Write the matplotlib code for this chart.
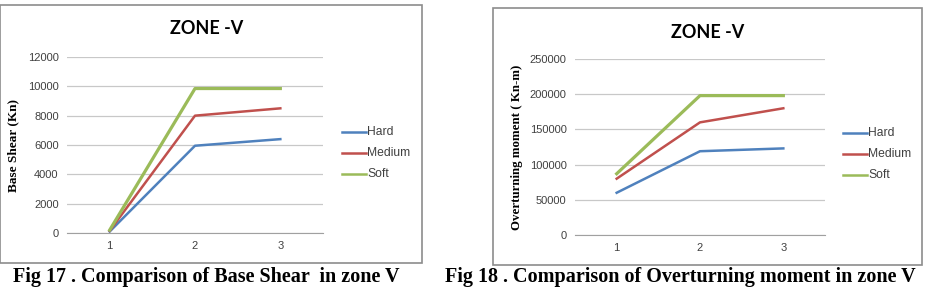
"""Zone V comparison: base shear and overturning moment for three soil types."""
import matplotlib
matplotlib.use("Agg")
import matplotlib.pyplot as plt
from matplotlib.patches import Rectangle

W, H = 925, 288

categories = [1, 2, 3]
series_names = ["Hard", "Medium", "Soft"]

shear_hard = [100, 5950, 6400]
shear_medium = [150, 8000, 8500]
shear_soft = [200, 9850, 9850]
shear_ticks = [0, 2000, 4000, 6000, 8000, 10000, 12000]

moment_hard = [60000, 119000, 123000]
moment_medium = [80000, 160000, 180000]
moment_soft = [87000, 198000, 198000]
moment_ticks = [0, 50000, 100000, 150000, 200000, 250000]

COLORS = ["#4F81BD", "#C0504D", "#9BBB59"]
GRID = "#C8C8C8"
TICK_COLOR = "#404040"


def fx(px):
    return px / W


def fy(py):
    return 1 - py / H


def panel(fig, frame, plot, title_xy, legend_xy, series, ticks, ylabel, ylabel_x, ylabel_size,
          caption, caption_x):
    # chart frame (pixel box)
    x0, y0, x1, y1 = frame
    fig.patches.append(Rectangle((fx(x0), fy(y1)), fx(x1 - x0), (y1 - y0) / H,
                                 transform=fig.transFigure, fill=False,
                                 edgecolor="#8C8C8C", linewidth=1.2))
    px0, py0, px1, py1 = plot
    ax = fig.add_axes([fx(px0), fy(py1), fx(px1 - px0), (py1 - py0) / H])
    for vals, name, color in zip(series, series_names, COLORS):
        lw = 2.3 if name == "Soft" else 1.8
        ax.plot(categories, vals, color=color, linewidth=lw, label=name)
    ax.set_xlim(0.5, 3.5)
    ax.set_ylim(ticks[0], ticks[-1])
    ax.set_yticks(ticks)
    ax.set_xticks(categories)
    ax.yaxis.grid(True, color=GRID, linewidth=0.9)
    ax.set_axisbelow(True)
    for side in ("left", "right", "top"):
        ax.spines[side].set_visible(False)
    ax.spines["bottom"].set_color("#A0A0A0")
    ax.tick_params(axis="both", length=0, labelsize=8, labelcolor=TICK_COLOR, pad=6,
                   labelfontfamily="Liberation Sans")
    fig.text(fx(title_xy[0]), fy(title_xy[1]), "ZONE -V", ha="center", va="center",
             fontsize=13, fontweight="bold", family="Lato")
    fig.text(fx(ylabel_x), (fy(py0) + fy(py1)) / 2, ylabel, rotation=90, ha="center",
             va="center", fontsize=ylabel_size, fontweight="bold", family="Liberation Serif")
    lx, ly = legend_xy
    for i, (name, color) in enumerate(zip(series_names, COLORS)):
        yy = fy(ly + i * 21)
        fig.lines.append(plt.Line2D([fx(lx), fx(lx + 24)], [yy, yy], color=color,
                                    linewidth=1.8, transform=fig.transFigure))
        fig.text(fx(lx + 25), yy, name, ha="left", va="center", fontsize=8.7,
                 color=TICK_COLOR, family="Liberation Sans")
    fig.text(fx(caption_x), fy(277), caption, ha="left", va="center", fontsize=14.5,
             fontweight="bold", family="Liberation Serif")
    return ax


fig = plt.figure(figsize=(W / 100, H / 100), dpi=100)
fig.patch.set_facecolor("white")

panel(fig, (0, 5, 422, 263), (67, 57, 323, 233), (207, 28), (342, 132),
      [shear_hard, shear_medium, shear_soft], shear_ticks,
      "Base Shear (Kn)", 13, 9.5, "Fig 17 . Comparison of Base Shear  in zone V", 13)

panel(fig, (493, 8, 922, 265), (575, 59, 825, 235), (708, 33), (843, 133),
      [moment_hard, moment_medium, moment_soft], moment_ticks,
      "Overturning moment ( Kn-m)", 517, 9.3,
      "Fig 18 . Comparison of Overturning moment in zone V", 445)

fig.savefig("out.png", dpi=100)
